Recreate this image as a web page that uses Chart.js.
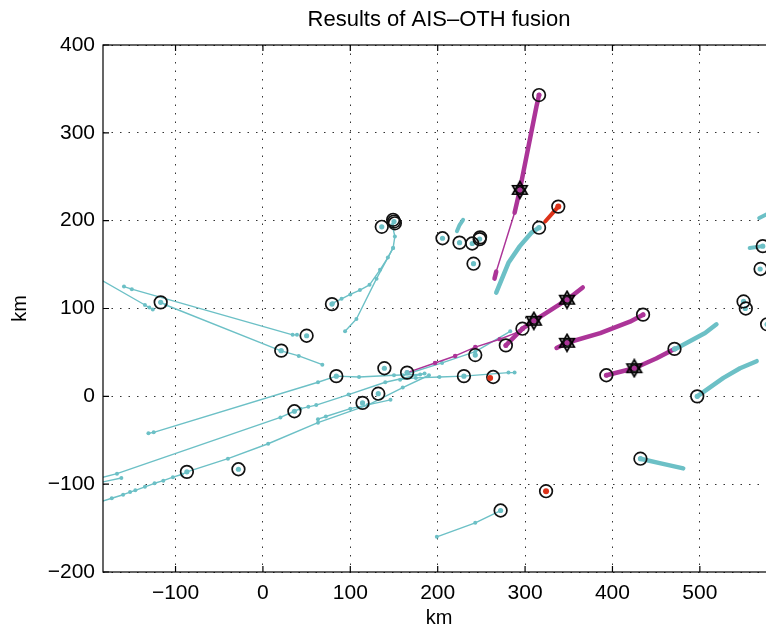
<!DOCTYPE html>
<html>
<head>
<meta charset="utf-8">
<script src="https://cdn.jsdelivr.net/npm/chart.js@4.4.1/dist/chart.umd.min.js"></script>
<style>
  html, body { margin: 0; padding: 0; background: #fff; overflow: hidden; }
  #wrap { width: 788px; height: 632px; }
</style>
</head>
<body>
<div id="wrap"><canvas id="grafico" width="788" height="632"></canvas></div>
<script>
// axis ticks
const xTicks = [-100, 0, 100, 200, 300, 400, 500];
const yTicks = [-200, -100, 0, 100, 200, 300, 400];

// thin cyan tracks (km)
const trackA = [[-186,133],[-135,104],[-130,101],[-126,99]];
const trackB = [[-159,125],[-150,122],[34,70],[39,70]];
const trackC = [[-117,107],[-111,104],[20,52],[41,46],[68,36]];
const trackD = [[80,106],[90,111],[100,116],[111,121],[122,127],[134,144],[143,158],[149,169],[151,182],[148,195]];
const trackE = [[149,169],[130,134],[107,88],[94,74]];
const trackF = [[-131,-42],[-125,-41],[63,16],[84,23],[110,22],[150,24],[180,25]];
const trackG = [[-186,-93],[-167,-88],[20,-24],[36,-17],[43,-14],[52,-12],[61,-10],[98,2],[140,16],[185,26]];
const trackH = [[-186,-98],[-162,-93]];
const trackI = [[-186,-120],[-173,-116],[-160,-112],[-152,-109],[-146,-107],[-135,-103],[-124,-99],[-114,-96],[-103,-92],[-93,-89],[-87,-86],[-40,-71],[6,-54],[63,-30],[120,-10],[160,10],[190,24]];
const trackJ = [[63,-26],[72,-23],[100,-14],[146,-4]];
const trackK = [[157,19],[175,21],[202,22],[230,23],[281,27],[288,27]];
const trackL = [[160,24],[205,38],[243,51],[283,74]];
const trackM = [[199,-160],[243,-144],[272,-130]];

// thick cyan tracks
const thickA = [[267,118],[281,152],[294,171],[307,186],[316,192]];
const thickB = [[472,54],[489,63],[506,72],[519,82]];
const thickC = [[497,0],[527,21],[546,32],[565,40]];
const thickD = [[432,-71],[454,-76],[481,-82]];
const thickE = [[222,188],[225,195],[229,201]];
const thickF = [[557,169],[572,171]];
const thickG = [[568,203],[590,214]];

// fused (magenta) tracks
const magThin = [[165,27],[197,38],[220,46],[243,56],[271,65],[294,74]];
const magA = [[278,58],[297,77],[310,86],[348,110],[366,124]];
const magB = [[336,55],[348,61],[386,72],[420,85],[435,93]];
const magC = [[393,24],[425,32],[450,43],[471,54]];
const magD = [[316,343],[313,330],[294,235],[288,209]];
const magDthin = [[288,209],[267,142]];
const magDend = [[267,142],[265,134]];

// OTH only (red)
const redA = [[323,199],[338,216]];
const redDots = [[260,21],[324,-108],[338,216]];

// markers
const circles = [[-117,107],[21,52],[50,69],[79,105],[84,23],[36,-17],[114,-7.5],[132,3],[139,32],[165,27],
  [-87,-86],[-28,-83],[136,193],[149,201],[150,199],[151,197],[205.5,180],[225,175],[239.5,174],[248,179],
  [248.5,181],[241,151],[316,343],[316,192],[338,216],[230,23],[263.5,22],[243,47],[278,58],[297,77],
  [435,93],[393,24],[471,54],[497,0],[432,-71],[324,-108],[272,-130],[550,108],[552.6,100],[569.5,145],
  [572,171],[577,82]];
const stars = [[294,235],[310,86],[348,110],[348,61],[425,32]];
const cyanDots = [[-117,107],[21,52],[50,69],[79,105],[84,23],[36,-17],[114,-7.5],[132,3],[139,32],[165,27],
  [-87,-86],[-28,-83],[136,193],[150,199],[205.5,180],[225,175],[239.5,174],[248,179],[241,151],[316,192],
  [230,23],[243,47],[497,0],[432,-71],[272,-130],[471,54],[550,108],[552,100],[569,145],[572,171],[577,82]];
const magDots = [[316,343],[435,93],[393,24],[278,58],[297,77],[294,235],[310,86],[348,110],[348,61],[425,32]];

const cian = "rgb(108,192,198)";
const magenta = "rgb(172,52,152)";
const rojo = "rgb(220,50,25)";

const pts = (arr) => arr.map((p) => ({ x: p[0], y: p[1] }));

function track(arr, color, width, dot) {
    return {
        data: pts(arr),
        showLine: true,
        borderColor: color,
        backgroundColor: color,
        borderWidth: width,
        borderCapStyle: "round",
        borderJoinStyle: "round",
        pointRadius: dot,
        pointBorderWidth: 0,
    };
}

function marks(arr, color, radius, style) {
    return {
        data: pts(arr),
        showLine: false,
        pointStyle: style || "circle",
        pointRadius: radius,
        pointBorderWidth: 0,
        backgroundColor: color,
        borderColor: color,
    };
}

// hexagram marker
const estrella = document.createElement("canvas");
estrella.width = 20;
estrella.height = 20;
(function () {
    const c = estrella.getContext("2d");
    const r = 8.5;
    c.strokeStyle = "#000";
    c.lineWidth = 1.6;
    c.fillStyle = "rgba(40,40,40,0.25)";
    [-90, 90].forEach((a0) => {
        c.beginPath();
        for (let i = 0; i < 3; i++) {
            const a = ((a0 + i * 120) * Math.PI) / 180;
            const px = 10 + r * Math.cos(a);
            const py = 10 + r * Math.sin(a);
            if (i === 0) c.moveTo(px, py); else c.lineTo(px, py);
        }
        c.closePath();
        c.fill();
        c.stroke();
    });
    c.beginPath();
    c.arc(10, 10, 3.2, 0, Math.PI * 2);
    c.lineWidth = 1.2;
    c.stroke();
})();

const datasets = [
    marks(redDots, rojo, 3),
    marks(magDots, magenta, 2.5),
    {
        data: pts(stars),
        showLine: false,
        pointStyle: estrella,
        pointRadius: 10,
    },
    {
        data: pts(circles),
        showLine: false,
        pointStyle: "circle",
        pointRadius: 6.3,
        pointBorderWidth: 1.7,
        borderColor: "#111",
        backgroundColor: "rgba(0,0,0,0)",
    },
    marks(cyanDots, cian, 2.6),
    track(redA, rojo, 4, 0),
    track(magA, magenta, 4.5, 0),
    track(magB, magenta, 4.5, 0),
    track(magC, magenta, 4.5, 0),
    track(magD, magenta, 4.5, 0),
    track(magDthin, magenta, 1.5, 0),
    track(magDend, magenta, 4.5, 0),
    track(magThin, magenta, 1.5, 2.3),
    track(thickA, cian, 4.5, 0),
    track(thickB, cian, 4.5, 0),
    track(thickC, cian, 4.5, 0),
    track(thickD, cian, 4.5, 0),
    track(thickE, cian, 4, 0),
    track(thickF, cian, 4, 0),
    track(thickG, cian, 4, 0),
];
[trackA, trackB, trackC, trackD, trackE, trackF, trackG, trackH, trackI, trackJ, trackK, trackL, trackM]
    .forEach((t) => datasets.push(track(t, cian, 1.4, 2)));

const menos = (v) => String(v).replace("-", "\u2212");

const marco = {
    id: "marco",
    afterDatasetsDraw(chart) {
        const { ctx, chartArea: a, scales: { x, y } } = chart;
        ctx.save();
        ctx.strokeStyle = "#000";
        ctx.lineWidth = 1.2;
        ctx.strokeRect(a.left, a.top, a.right - a.left, a.bottom - a.top);
        ctx.beginPath();
        xTicks.forEach((v) => {
            const px = x.getPixelForValue(v);
            ctx.moveTo(px, a.bottom); ctx.lineTo(px, a.bottom - 6);
            ctx.moveTo(px, a.top); ctx.lineTo(px, a.top + 6);
        });
        yTicks.forEach((v) => {
            const py = y.getPixelForValue(v);
            ctx.moveTo(a.left, py); ctx.lineTo(a.left + 6, py);
            ctx.moveTo(a.right, py); ctx.lineTo(a.right - 6, py);
        });
        ctx.stroke();
        ctx.restore();
    },
};

const fuente = "'Liberation Sans', Arial, Helvetica, sans-serif";

const rejilla = {
    color: "rgba(0,0,0,0.8)",
    lineWidth: 1,
    drawTicks: false,
};

const config = {
    type: "scatter",
    data: { datasets: datasets },
    options: {
        responsive: false,
        animation: false,
        events: [],
        layout: { padding: { right: 13, left: 0, top: 0, bottom: 0 } },
        plugins: {
            legend: { display: false },
            tooltip: { enabled: false },
            title: {
                display: true,
                fullSize: false,
                text: "Results of AIS\u2013OTH fusion",
                color: "#000",
                font: { family: fuente, size: 22, weight: "normal" },
                padding: { top: 7, bottom: 11.6 },
            },
        },
        scales: {
            x: {
                type: "linear",
                min: -183,
                max: 586,
                afterBuildTicks: (s) => { s.ticks = xTicks.map((v) => ({ value: v })); },
                afterFit: (s) => { s.height = 60; },
                grid: rejilla,
                border: { display: false, dash: [1.5, 7] },
                ticks: {
                    color: "#000",
                    padding: 9,
                    maxRotation: 0,
                    font: { family: fuente, size: 21 },
                    callback: (v) => menos(v),
                },
                title: {
                    display: true,
                    text: "km",
                    color: "#000",
                    font: { family: fuente, size: 20 },
                    padding: { top: 0, bottom: 2 },
                },
            },
            y: {
                type: "linear",
                min: -200,
                max: 400,
                afterBuildTicks: (s) => { s.ticks = yTicks.map((v) => ({ value: v })); },
                afterFit: (s) => { s.width = 103; },
                grid: rejilla,
                border: { display: false, dash: [1.5, 7] },
                ticks: {
                    color: "#000",
                    padding: 8,
                    font: { family: fuente, size: 21 },
                    callback: (v) => menos(v),
                },
                title: {
                    display: true,
                    text: "km",
                    color: "#000",
                    font: { family: fuente, size: 20 },
                    padding: { top: 8, bottom: 0 },
                },
            },
        },
    },
    plugins: [marco],
};

const grafico = new Chart(document.getElementById("grafico"), config);
</script>
</body>
</html>
